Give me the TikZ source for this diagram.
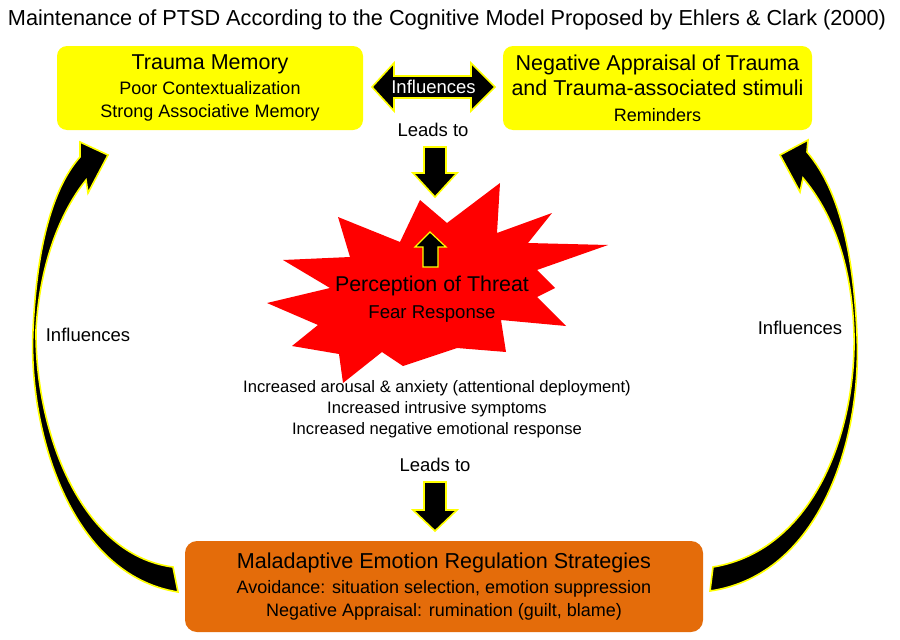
\documentclass[tikz,border=0pt]{standalone}
\usepackage{fontspec}
\setmainfont{Liberation Sans}
\definecolor{memyellow}{RGB}{255,255,0}
\definecolor{strategyorange}{RGB}{228,108,10}
\definecolor{threatred}{RGB}{255,0,0}
\newcommand{\fsize}[1]{\fontsize{#1}{#1}\selectfont}

\begin{document}
\begin{tikzpicture}[x=1pt,y=-1pt,
		ybox/.style={fill=memyellow, rounded corners=10pt, minimum width=306pt, minimum height=84pt, align=center, font=\fontsize{18}{23}\selectfont},
		obox/.style={fill=strategyorange, rounded corners=12pt, minimum width=518pt, minimum height=91pt, align=center, font=\fontsize{18}{23}\selectfont},
		blockarrow/.style={fill=black, draw=memyellow, line width=1.6pt, line join=miter},
		lbl/.style={font=\fsize{18.5}, inner sep=0pt}
			]
	\useasboundingbox (0,0) rectangle (900,640);
	\fill[white] (0,0) rectangle (900,640);

	\node[font=\fsize{21.7}] (title) at (447,20) {Maintenance of PTSD According to the Cognitive Model Proposed by Ehlers \& Clark (2000)};

	\node[ybox] (memory) at (210,88) {{\fsize{21.5}Trauma Memory}\\[2.8pt]Poor Contextualization\\Strong Associative Memory};
	\node[ybox, minimum width=309pt, font=\fontsize{21.5}{25}\selectfont] (appraisal) at (657.5,88) {Negative Appraisal of Trauma\\and Trauma-associated stimuli\\[0.8pt]{\fsize{18}Reminders}};
	\node[obox] (strategies) at (444,586.5) {{\fsize{21.6}Maladaptive Emotion Regulation Strategies}\\[1.7pt]Avoidance: situation selection, emotion suppression\\Negative Appraisal: rumination (guilt, blame)};

	% threat burst
	\fill[threatred] (420,200) -- (447,223) -- (500,183) -- (497,233) -- (552,213) -- (528,243) -- (608,245) -- (537,270) -- (555,288) -- (537,297) -- (566,326) -- (501,320) -- (506,352) -- (457,348) -- (403,366) -- (382,352) -- (343,383) -- (339,354) -- (292,346) -- (318,325) -- (267,303) -- (330,288) -- (283,260) -- (350,257) -- (338,217) -- (400,242) -- cycle;
	\filldraw[blockarrow, line width=1.2pt] (423,267) -- (423,247) -- (415,247) -- (430,232) -- (446,247) -- (438,247) -- (438,267) -- cycle;
	\node[align=center, font=\fontsize{18.6}{27}\selectfont] (threat) at (432,299) {{\fsize{21.4}Perception of Threat}\\Fear Response};

	\node[align=center, font=\fontsize{16.6}{21}\selectfont] (effects) at (437,409) {Increased arousal \& anxiety (attentional deployment)\\Increased intrusive symptoms\\Increased negative emotional response};

	% influences both ways
	\filldraw[blockarrow] (372,87) -- (394,63) -- (394,76) -- (471,76) -- (471,63) -- (495,87) -- (471,111) -- (471,98) -- (394,98) -- (394,111) -- cycle;
	\node[lbl, text=white] (infl) at (433.5,87) {Influences};

	% leads to
	\node[lbl] (lead1) at (433,130) {Leads to};
	\filldraw[blockarrow] (424,147) -- (446,147) -- (446,173) -- (457,173) -- (435,197) -- (413,173) -- (424,173) -- cycle;
	\node[lbl] (lead2) at (435,465) {Leads to};
	\filldraw[blockarrow] (424,482) -- (446,482) -- (446,510) -- (457,510) -- (435,531) -- (413,510) -- (424,510) -- cycle;

	% curved arrows back to the top boxes
	\filldraw[blockarrow] (178,592) .. controls (70,575) and (28,430) .. (33,330) .. controls (37,240) and (55,185) .. (80,157) -- (80,142) -- (108,155) -- (88,193) -- (86,180) .. controls (62,210) and (40,260) .. (36,330) .. controls (35,430) and (80,555) .. (173,567) -- cycle;
	\node[lbl] (inflL) at (88,335) {Influences};
	\filldraw[blockarrow] (710,591) .. controls (820,575) and (862,440) .. (857,335) .. controls (853,240) and (835,185) .. (807,152) -- (808,140) -- (780,155) -- (800,192) -- (803,178) .. controls (830,210) and (852,260) .. (854,335) .. controls (856,430) and (815,550) .. (713,567) -- cycle;
	\node[lbl] (inflR) at (800,328) {Influences};
\end{tikzpicture}
\end{document}
